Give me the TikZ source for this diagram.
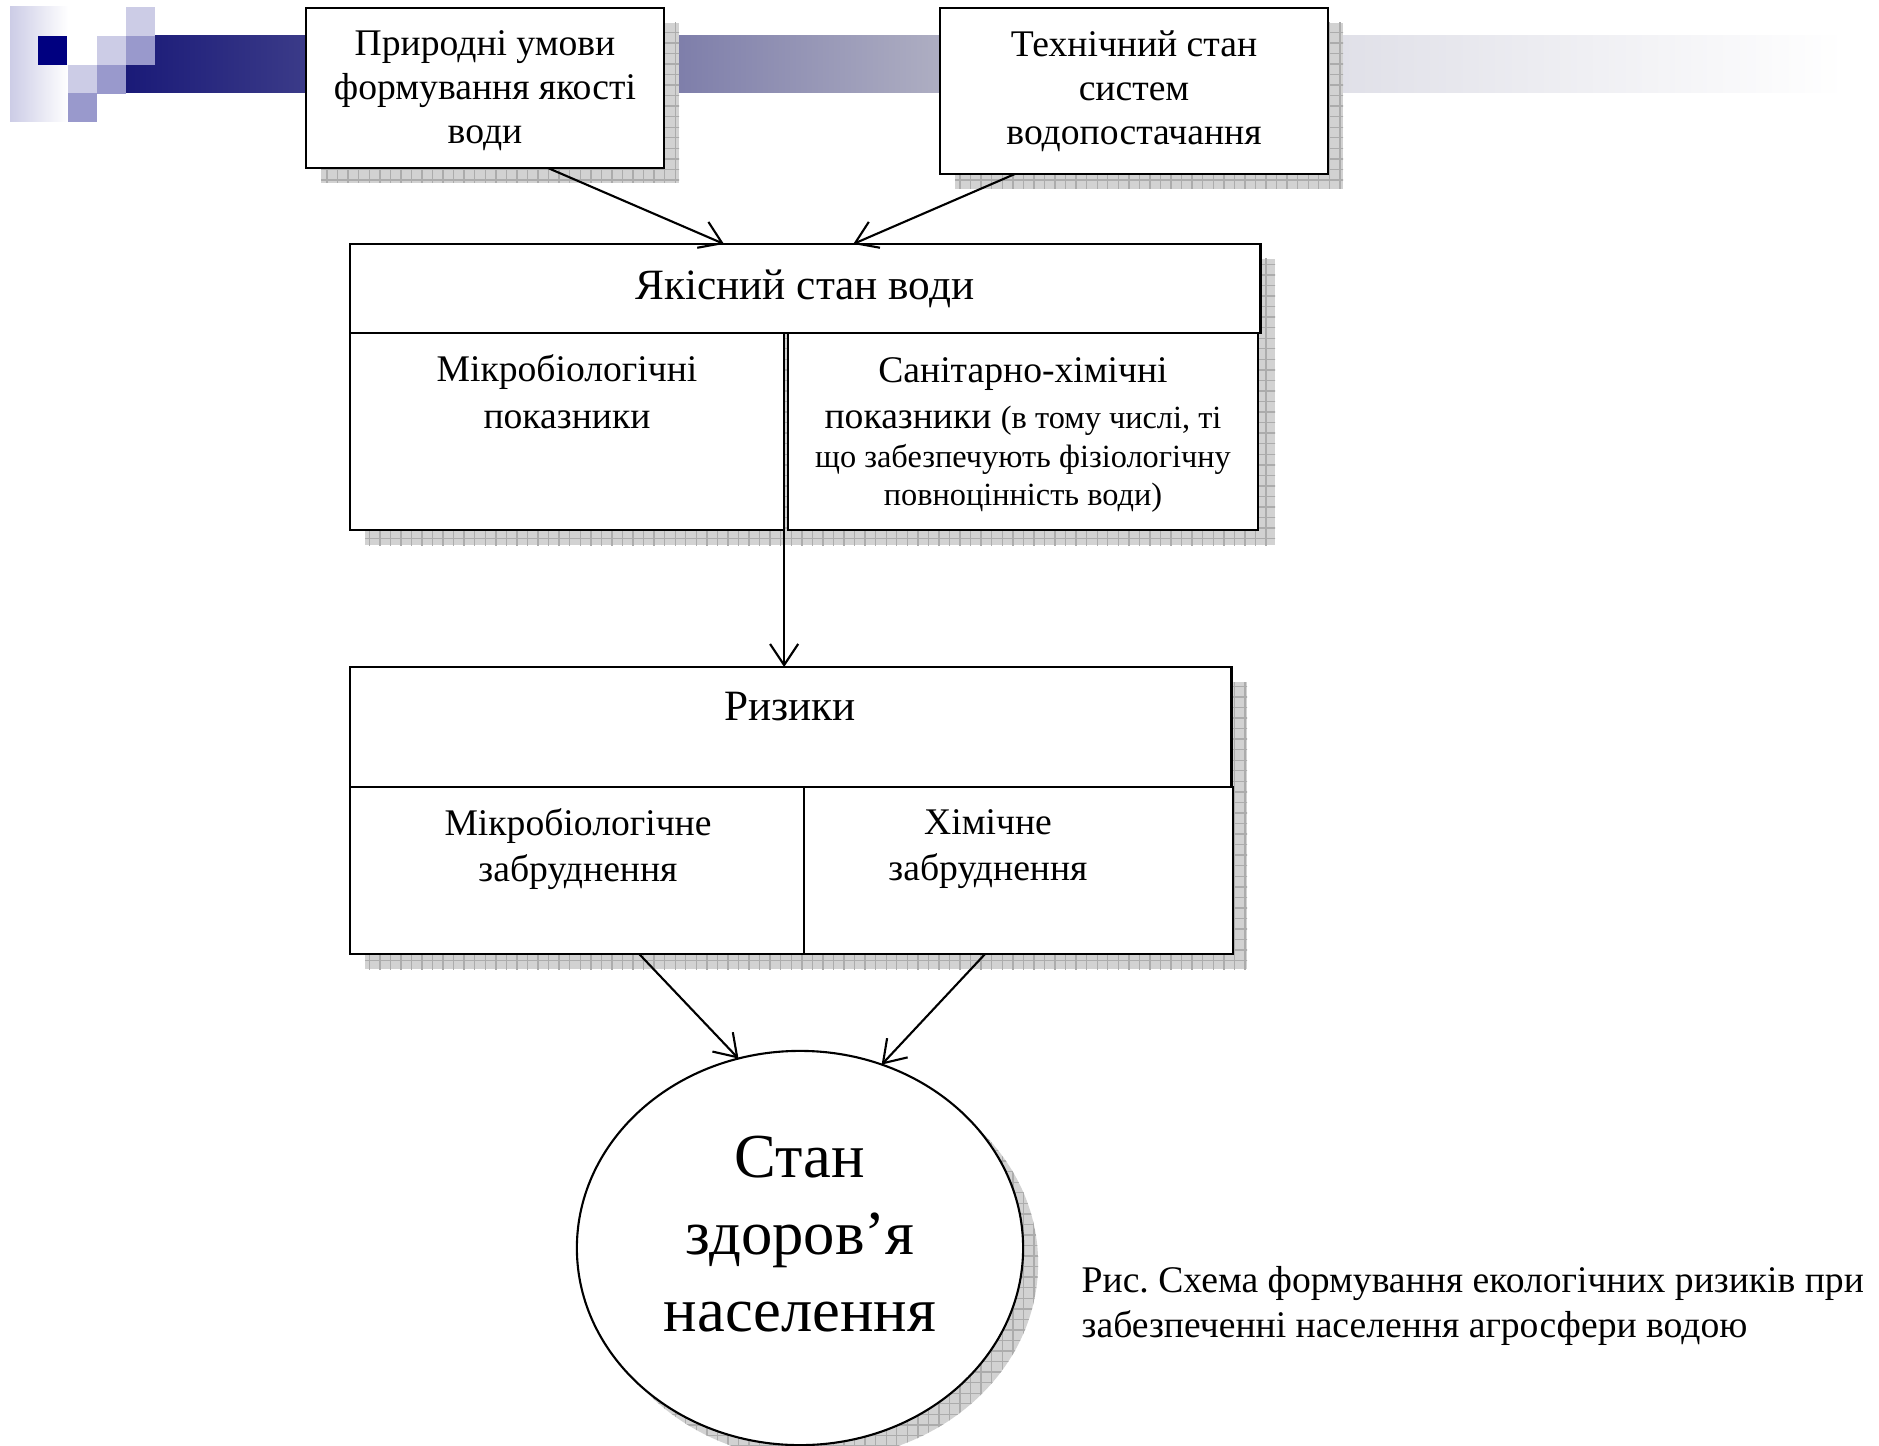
\documentclass[tikz,border=0pt]{standalone}
\usepackage{fontspec}
\setmainfont{Liberation Serif}
\usetikzlibrary{shapes.geometric,arrows.meta,patterns,calc}

\definecolor{navysq}{RGB}{0,0,128}
\definecolor{medsq}{RGB}{153,153,204}
\definecolor{lightsq}{RGB}{204,204,230}
\definecolor{barleft}{RGB}{26,26,120}
\definecolor{barmid}{RGB}{174,174,194}
\definecolor{barlight}{RGB}{224,224,232}

\begin{document}
\begin{tikzpicture}[x=0.01cm,y=-0.01cm]
        \tikzstyle{every node} = [font=\fontsize{10.7}{12.5}\selectfont]
        \tikzstyle{box} = [draw, line width=0.7pt, fill=white, inner sep=0pt, outer sep=0pt]
        \tikzstyle{boxshadow} = [fill=gray!35, postaction={pattern=grid, pattern color=gray!65}]
        \tikzstyle{arr} = [line width=0.6pt, -{Straight Barb[length=6pt,width=8pt]}]
        \tikzstyle{big} = [font=\fontsize{12.3}{14}\selectfont]
            \path[use as bounding box] (0,0) rectangle (1879,1446);
            \clip (0,0) rectangle (1879,1446);

            % banner and squares
            \foreach \a/\b/\l/\r in {126/941/barleft/barmid, 940/1341/barmid/barlight, 1340/1845/barlight/white}{
                \shade[left color=\l, right color=\r] (\a,36) rectangle (\b,93);
            }
            \shade[left color=lightsq, right color=white] (10,7) rectangle (68,122);
            \foreach \x/\y/\c in {38/36/navysq, 97/36/lightsq, 126/7/lightsq, 126/36/medsq,
                                  68/65/lightsq, 97/65/medsq, 68/93/medsq}{
                \fill[\c] (\x,\y) rectangle ++(29,29);
            }

            % shadows
            \fill[boxshadow] (321,23) rectangle (679,183);
            \fill[boxshadow] (955,23) rectangle (1343,189);
            \fill[boxshadow] (365,259) rectangle (1275,545);
            \fill[boxshadow] (365,682) rectangle (1247,969);
            \fill[boxshadow] (815,1263) ellipse [x radius=2.23cm, y radius=1.97cm];

            % top boxes
            \node[box, align=center, minimum width=3.58cm, minimum height=1.6cm] (nature) at (485,88) {};
            \node[align=center] (nature-txt) at (485,91) {Природні умови\\формування якості\\води};
            \node[box, align=center, minimum width=3.88cm, minimum height=1.66cm] (tech) at (1134,91)
                {Технічний стан\\систем\\водопостачання};

            % water quality
            \node[box, big, minimum width=9.1cm, minimum height=0.89cm] (quality) at (805,288.5) {Якісний стан води};
            \node[box, minimum width=4.34cm, minimum height=1.97cm] (micro) at (567,431.5) {};
            \node[box, minimum width=4.7cm, minimum height=1.97cm] (chem) at (1023,431.5) {};
            \node[align=center, font=\fontsize{10.7}{13.4}\selectfont] (micro-txt) at (567,392)
                {Мікробіологічні\\показники};
            \node[align=center, font=\fontsize{10.7}{11}\selectfont] (chem-txt) at (1023,435)
                {Санітарно-хімічні\\[2.2pt]
                 показники {\fontsize{9.2}{11}\selectfont(в тому числі, ті}\\
                 {\fontsize{9.2}{11}\selectfont що забезпечують фізіологічну}\\
                 {\fontsize{9.2}{11}\selectfont повноцінність води)}};

            % risks
            \node[box, minimum width=8.81cm, minimum height=1.2cm] (risks) at (790.5,727) {};
            \node[box, minimum width=4.54cm, minimum height=1.67cm] (microrisk) at (577,870.5) {};
            \node[box, minimum width=4.29cm, minimum height=1.67cm] (chemrisk) at (1018.5,870.5) {};
            \node[big] (risks-txt) at (790,707) {Ризики};
            \node[align=center, font=\fontsize{10.7}{13}\selectfont] (microrisk-txt) at (578,849)
                {Мікробіологічне\\забруднення};
            \node[align=center, font=\fontsize{10.7}{13}\selectfont] (chemrisk-txt) at (988,849)
                {Хімічне\\забруднення};

            % health
            \node[ellipse, draw, line width=0.6pt, fill=white, inner sep=0pt, outer sep=0pt,
                  minimum width=4.46cm, minimum height=3.94cm] (health) at (800,1248) {};
            \node[align=center, font=\fontsize{17.8}{22}\selectfont] (health-txt) at (800,1234)
                {Стан\\здоров’я\\населення};

            \node[anchor=west, align=left, inner sep=0pt, font=\fontsize{10.7}{12.8}\selectfont] (caption) at (1081,1306)
                {Рис.\ Схема формування екологічних ризиків при\\забезпеченні населення агросфери водою};

            % arrows
            \draw[arr] ($(nature.south west)!0.676!(nature.south east)$) -- ($(quality.north west)!0.411!(quality.north east)$);
            \draw[arr] ($(tech.south west)!0.193!(tech.south east)$) -- ($(quality.north west)!0.553!(quality.north east)$);
            \draw[arr] (micro.south east) -- (micro.south east |- risks.north);
            \draw[arr] ($(microrisk.south west)!0.637!(microrisk.south east)$) -- (health.108);
            \draw[arr] ($(chemrisk.south west)!0.422!(chemrisk.south east)$) -- (health.66);
\end{tikzpicture}
\end{document}
